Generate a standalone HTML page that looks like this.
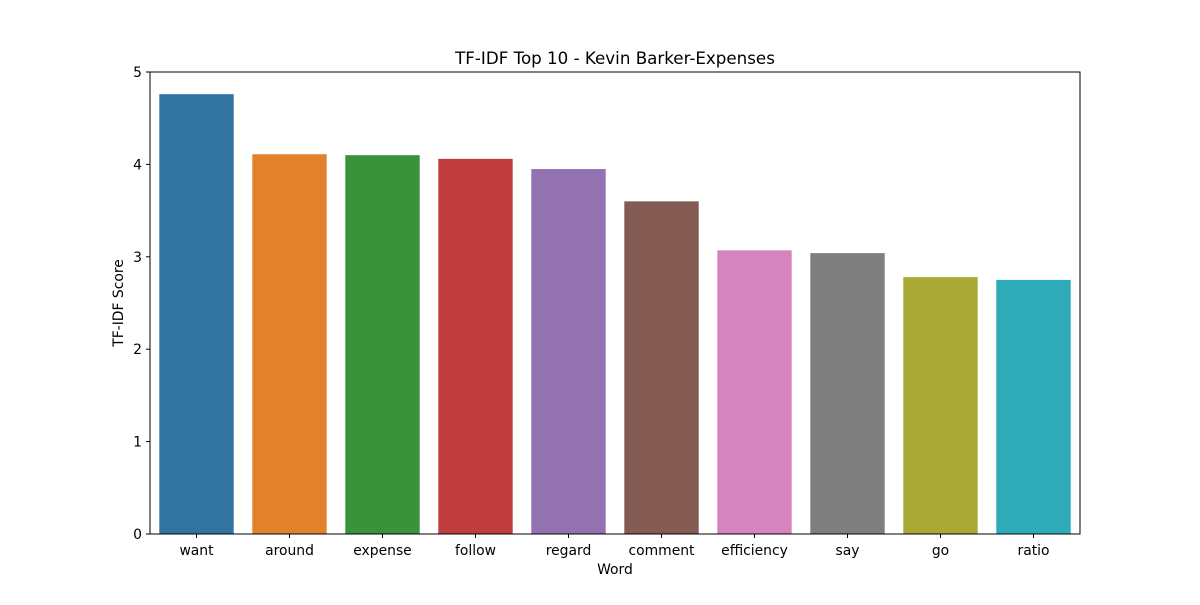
<!DOCTYPE html>
<html><head><meta charset="utf-8"><style>
body{margin:0;background:#fff;}
svg text{font-family:"DejaVu Sans","Liberation Sans",sans-serif;fill:#000;}
</style></head><body>
<svg id="chart" width="1200" height="600">
<rect width="1200" height="600" fill="#fff"/>
<text x="615" y="64" font-size="16.7" text-anchor="middle">TF-IDF Top 10 - Kevin Barker-Expenses</text>
<g id="bars"></g><g id="axes"></g>
<text x="615" y="574" font-size="13.9" text-anchor="middle">Word</text>
<text transform="translate(123,303) rotate(-90)" font-size="13.9" text-anchor="middle">TF-IDF Score</text>
</svg>
<script>
const categories=["want","around","expense","follow","regard","comment","efficiency","say","go","ratio"];
const values=[4.76,4.11,4.10,4.06,3.95,3.60,3.07,3.04,2.78,2.75];
const colors=["#3274a1","#e1812c","#3a923a","#c03d3e","#9372b2","#845b53","#d684bd","#7f7f7f","#a9aa35","#2eabb8"];
const yTicks=[0,1,2,3,4,5];
const L=150,R=1080,T=72,B=534,yMax=5;
const ns="http://www.w3.org/2000/svg";
const y=v=>B-(v/yMax)*(B-T);
const slot=(R-L)/categories.length;
const x=i=>L+slot*(i+0.5);
const bars=document.getElementById('bars'),axes=document.getElementById('axes');
function mk(t,a,p){const e=document.createElementNS(ns,t);for(const k in a)e.setAttribute(k,a[k]);p.appendChild(e);return e;}
categories.forEach((c,i)=>{
 const r=mk('rect',{x:x(i)-slot*0.4,y:y(values[i]),width:slot*0.8,height:B-y(values[i]),fill:colors[i]},bars);
 
 
 mk('line',{x1:x(i),x2:x(i),y1:B,y2:B+4,stroke:'#000','stroke-width':1},axes);
 const t=mk('text',{x:x(i),y:B+21,'font-size':13.9,'text-anchor':'middle'},axes);
 t.textContent=c;
 
 
});
yTicks.forEach(v=>{
 mk('line',{x1:L-4,x2:L,y1:y(v),y2:y(v),stroke:'#000','stroke-width':1},axes);
 const t=mk('text',{x:L-8,y:y(v)+5,'font-size':13.9,'text-anchor':'end'},axes);
 t.textContent=v;
 
 
});
const f=mk('rect',{x:L,y:T,width:R-L,height:B-T,fill:'none',stroke:'#000','stroke-width':1},axes);


</script>
</body></html>
